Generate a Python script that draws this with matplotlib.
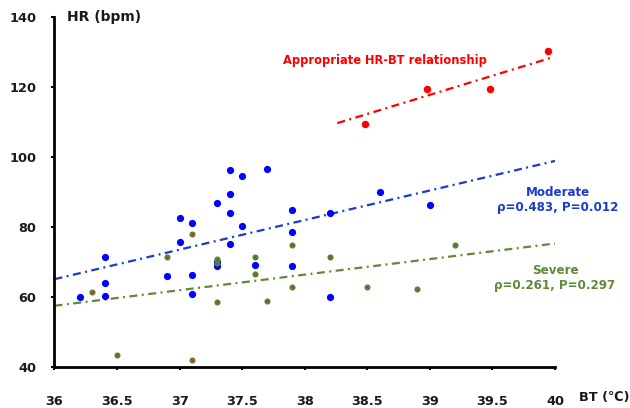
import numpy as np
import matplotlib
matplotlib.use("Agg")
import matplotlib.pyplot as plt

plt.rcParams['font.family'] = ['DejaVu Sans', 'Noto Sans CJK JP']

# Moderate group (blue)
mod_bt = [36.2, 36.4, 36.4, 36.4, 36.9, 37.0, 37.0, 37.1, 37.1, 37.1,
          37.3, 37.3, 37.3, 37.4, 37.4, 37.4, 37.4, 37.5, 37.5, 37.6,
          37.7, 37.9, 37.9, 37.9, 38.2, 38.2, 38.6, 39.0]
mod_hr = [60.0, 71.3, 63.9, 60.2, 66.1, 82.7, 75.6, 81.1, 66.2, 60.9,
          86.9, 68.9, 70.0, 96.2, 89.5, 84.1, 75.2, 94.5, 80.2, 69.1,
          96.6, 84.9, 78.7, 68.9, 84.0, 60.0, 90.1, 86.2]

# Severe group (green)
sev_bt = [36.3, 36.5, 36.9, 37.1, 37.1, 37.3, 37.3, 37.3, 37.6, 37.6,
          37.7, 37.9, 37.9, 38.2, 38.5, 38.9, 39.2]
sev_hr = [61.3, 43.4, 71.4, 77.9, 41.9, 70.9, 69.8, 58.6, 71.3, 66.6,
          58.9, 74.9, 62.9, 71.3, 62.8, 62.2, 74.9]

# Appropriate HR-BT relationship (red)
app_bt = [38.48, 38.98, 39.48, 39.94]
app_hr = [109.4, 119.4, 119.4, 130.4]

# trend lines: (x start, x end, slope, intercept)
mod_trend = (36.0, 40.0, 8.45, 65.1 - 8.45 * 36.0)
sev_trend = (36.0, 40.0, 4.45, 57.5 - 4.45 * 36.0)
app_trend = (38.26, 39.98, 10.93, 109.7 - 10.93 * 38.26)

fig = plt.figure(figsize=(6.3, 4.08), dpi=100)
ax = fig.add_axes([0.0865, 0.1005, 0.7945, 0.8575])

dashdot = (0, (3.6, 2.0, 0.9, 2.0))


def draw_trend(t, color):
    xs = np.array([t[0], t[1]])
    ax.plot(xs, t[2] * xs + t[3], color=color, lw=1.6, linestyle=dashdot, zorder=2)


draw_trend(mod_trend, '#1A3CC6')
draw_trend(sev_trend, '#5E8A3A')
draw_trend(app_trend, '#FF0000')

ax.plot(mod_bt, mod_hr, 'o', color='#0000FF', markersize=5.2, markeredgewidth=0, zorder=3)
ax.plot(sev_bt, sev_hr, 'o', color='#5B7F33', markersize=4.4, markeredgewidth=0, zorder=4)
ax.plot(sev_bt, sev_hr, 'o', color='#FF0000', markersize=0.9, markeredgewidth=0, zorder=5)
ax.plot(app_bt, app_hr, 'o', color='#FF0000', markersize=5.4, markeredgewidth=0, zorder=3)

ax.set_xlim(36, 40)
ax.set_ylim(40, 140)
ax.set_xticks([36, 36.5, 37, 37.5, 38, 38.5, 39, 39.5, 40])
ax.set_xticklabels(['36', '36.5', '37', '37.5', '38', '38.5', '39', '39.5', '40'])
ax.set_yticks([40, 60, 80, 100, 120, 140])

for s in ['top', 'right']:
    ax.spines[s].set_visible(False)
for s in ['left', 'bottom']:
    ax.spines[s].set_linewidth(2)
    ax.spines[s].set_color('black')

ax.tick_params(axis='both', direction='out', length=2, width=1.5,
               labelsize=9.3, colors='black')
ax.tick_params(axis='x', pad=18.5)
ax.tick_params(axis='y', pad=11)
for lab in ax.get_xticklabels() + ax.get_yticklabels():
    lab.set_fontweight('bold')
    lab.set_color('#1a1a1a')

fig.text(67 / 630, 1 - 17 / 408, 'HR (bpm)', fontsize=10, fontweight='bold',
         color='#1a1a1a', ha='left', va='center')
fig.text(579 / 630, 1 - 398 / 408, 'BT (℃)', fontsize=9.3, fontweight='bold',
         color='#1a1a1a', ha='left', va='center')

ax.text(38.64, 127.7, 'Appropriate HR-BT relationship', fontsize=8.3, fontweight='bold',
        color='#FF0000', ha='center', va='center')
ax.text(40.02, 87.7, 'Moderate\nρ=0.483, P=0.012', fontsize=8.6, fontweight='bold',
        color='#1A3CC6', ha='center', va='center', linespacing=1.2)
ax.text(40.0, 65.5, 'Severe\nρ=0.261, P=0.297', fontsize=8.6, fontweight='bold',
        color='#5E8A3A', ha='center', va='center', linespacing=1.2)

fig.savefig('out.png', dpi=100)
